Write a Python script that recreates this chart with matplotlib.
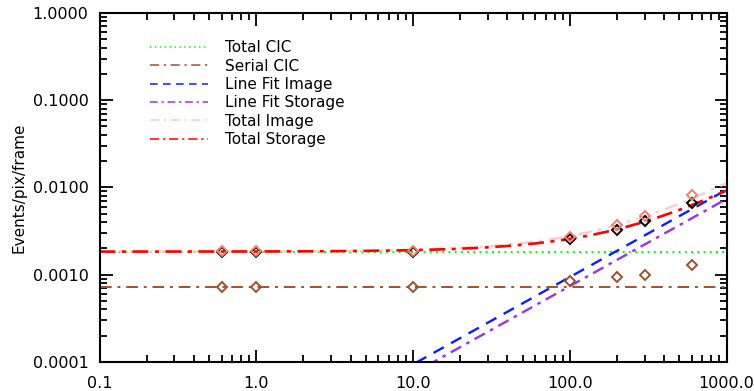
import numpy as np
import matplotlib
matplotlib.use("Agg")
import matplotlib.pyplot as plt
from matplotlib.ticker import FixedLocator, FormatStrFormatter, LogLocator, NullFormatter

# ---- data ----
total_cic = 0.00184
serial_cic = 0.00073
fit_image_coef = 9.4e-6      # events/pix/frame per unit x (slope 1 in log-log)
fit_storage_coef = 7.4e-6

x_points = [0.6, 1.0, 10.0, 100.0, 200.0, 300.0, 600.0]
storage_points = [0.00180, 0.00180, 0.00182, 0.00255, 0.00326, 0.0041, 0.0066]
image_points = [0.00188, 0.00188, 0.00188, 0.00273, 0.0037, 0.00475, 0.0081]
serial_points = [0.00073, 0.00073, 0.00073, 0.00085, 0.00093, 0.00100, 0.00128]

x_ticks = [0.1, 1.0, 10.0, 100.0, 1000.0]
y_ticks = [0.0001, 0.001, 0.01, 0.1, 1.0]

plt.rcParams['font.family'] = ['DejaVu Sans']
fig = plt.figure(figsize=(7.54, 3.91), dpi=100)
ax = fig.add_axes([0.132, 0.0742, 0.8316, 0.8926])

x = np.logspace(-1, 3, 400)
fit_image = fit_image_coef * x
fit_storage = fit_storage_coef * x

ax.plot(x, np.full_like(x, total_cic), color='#00ff00', ls=(0, (1, 2.2)), lw=1.4, label='Total CIC')
ax.plot(x, np.full_like(x, serial_cic), color='#a0522d', ls=(0, (6, 3, 1.5, 3)), lw=1.4, label='Serial CIC')
ax.plot(x, fit_image, color='#0a1eff', ls=(0, (5, 3.5)), lw=1.7, label='Line Fit Image')
ax.plot(x, fit_storage, color='#9a30f0', ls=(0, (5, 2.5, 1.5, 2.5)), lw=1.7, label='Line Fit Storage')
ax.plot(x, total_cic + fit_image, color='#ffc8cc', ls=(0, (6, 3, 1.5, 3)), lw=1.6, label='Total Image')
ax.plot(x, total_cic + fit_storage, color='#ff0000', ls=(0, (6, 2.5, 1.5, 2.5)), lw=1.9, label='Total Storage')

ax.plot(x_points, storage_points, ls='none', marker='D', ms=5.3, mfc='none', mec='black', mew=1.4)
ax.plot(x_points, image_points, ls='none', marker='D', ms=5.3, mfc='none', mec='#f08070', mew=1.4)
ax.plot(x_points, serial_points, ls='none', marker='D', ms=5.3, mfc='none', mec='#a0522d', mew=1.4)

ax.set_xscale('log')
ax.set_yscale('log')
ax.set_xlim(0.1, 1000)
ax.set_ylim(0.0001, 1.0)
ax.xaxis.set_major_locator(FixedLocator(x_ticks))
ax.yaxis.set_major_locator(FixedLocator(y_ticks))
ax.xaxis.set_major_formatter(FormatStrFormatter('%.1f'))
ax.yaxis.set_major_formatter(FormatStrFormatter('%.4f'))
ax.xaxis.set_minor_locator(LogLocator(base=10, subs=np.arange(2, 10)))
ax.yaxis.set_minor_locator(LogLocator(base=10, subs=np.arange(2, 10)))
ax.xaxis.set_minor_formatter(NullFormatter())
ax.yaxis.set_minor_formatter(NullFormatter())
ax.tick_params(which='both', direction='in', top=True, right=True, labelsize=11.5, width=1.3)
ax.tick_params(which='major', length=9, pad=8)
ax.tick_params(axis='x', which='major', pad=10)
ax.tick_params(which='minor', length=5)
for s in ax.spines.values():
    s.set_linewidth(1.5)

ax.set_ylabel('Events/pix/frame', fontsize=11)

leg = ax.legend(loc='upper left', bbox_to_anchor=(0.059, 0.961), frameon=False,
                fontsize=11, handlelength=3.8, handletextpad=1.1, labelspacing=0.22)
for h in leg.get_lines():
    h.set_linewidth(1.1)

fig.savefig('out.png', dpi=100)
